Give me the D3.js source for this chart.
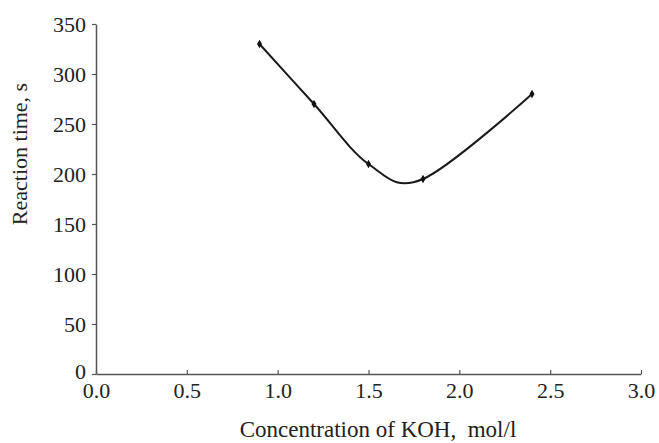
<!DOCTYPE html>
<html><head><meta charset="utf-8">
<script src="https://cdn.jsdelivr.net/npm/d3@7"></script>
<style>body{margin:0;background:#fff}svg{display:block}text{font-family:"Liberation Serif","DejaVu Serif",serif}</style>
</head><body>
<svg id="c" width="659" height="443"></svg>
<script>
const concentration = [0.9, 1.2, 1.5, 1.8, 2.4];
const reactionTime = [330, 270, 210, 195, 280];
const xTicks = [0, 0.5, 1.0, 1.5, 2.0, 2.5, 3.0];
const yTicks = [0, 50, 100, 150, 200, 250, 300, 350];
const xTitle = "Concentration of KOH,  mol/l";
const yTitle = "Reaction time, s";

const svg = d3.select("#c");
const x = d3.scaleLinear().domain([0, 3]).range([96, 641]);
const y = d3.scaleLinear().domain([0, 350]).range([374, 24]);
const font = "Liberation Serif";
const axisColor = "#555";

const gx = svg.append("g").attr("transform", `translate(0,${y(0)})`)
  .call(d3.axisBottom(x).tickValues(xTicks).tickFormat(d3.format(".1f")).tickSizeInner(4).tickSizeOuter(0).tickPadding(4));
const gy = svg.append("g").attr("transform", `translate(${x(0)},0)`)
  .call(d3.axisLeft(y).tickValues(yTicks).tickFormat(d3.format("d")).tickSizeInner(4).tickSizeOuter(0).tickPadding(6));
gx.selectAll(".tick line").attr("transform", "translate(0,-4)");
[gx, gy].forEach(g => {
  g.attr("font-family", font).attr("font-size", 22);
  g.select(".domain").attr("stroke", axisColor).attr("stroke-width", 1.5);
  g.selectAll(".tick line").attr("stroke", axisColor).attr("stroke-width", 1.2);
  g.selectAll("text").attr("fill", "#222");
});
gx.selectAll("text").attr("dy", "0.71em");
gy.selectAll(".tick text").filter(d => d === 0).attr("dy", "0.2em");

const pts = concentration.map((c, i) => [x(c), y(reactionTime[i])]);
svg.append("path")
  .attr("d", d3.line().curve(d3.curveCatmullRom.alpha(0))(pts))
  .attr("fill", "none").attr("stroke", "#1a1a1a").attr("stroke-width", 2);
svg.selectAll("path.pt").data(pts).enter().append("path").attr("class", "pt")
  .attr("transform", d => `translate(${d[0]},${d[1]})`)
  .attr("d", d3.symbol(d3.symbolDiamond, 22)())
  .attr("fill", "#111");

svg.append("text").attr("x", 378).attr("y", 437).attr("text-anchor", "middle")
  .attr("font-family", font).attr("font-size", 23).attr("fill", "#222")
  .attr("xml:space", "preserve").style("white-space", "pre").text(xTitle);
svg.append("text").attr("transform", "translate(27,154) rotate(-90)").attr("text-anchor", "middle")
  .attr("font-family", font).attr("font-size", 22).attr("fill", "#222").text(yTitle);
</script>
</body></html>
